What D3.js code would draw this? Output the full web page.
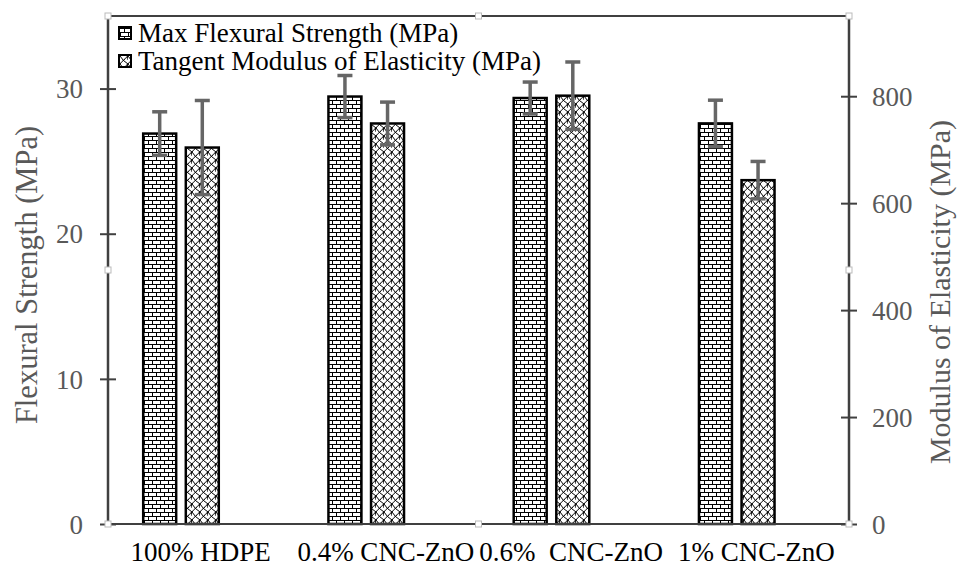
<!DOCTYPE html>
<html><head><meta charset="utf-8">
<script src="https://cdn.jsdelivr.net/npm/d3@7/dist/d3.min.js"></script>
</head>
<body style="margin:0;background:#fff"><svg id="chart" width="958" height="570"></svg>
<script>
const categories = ["100% HDPE", "0.4% CNC-ZnO", "0.6%  CNC-ZnO", "1% CNC-ZnO"];
const flexStrength = [26.9, 29.45, 29.35, 27.6];
const flexErr = [1.5, 1.45, 1.1, 1.6];
const modulus = [704, 749, 801, 643];
const modulusErr = [88, 40, 63, 35];
const leftTicks = [0, 10, 20, 30];
const rightTicks = [0, 200, 400, 600, 800];
const seriesNames = ["Max Flexural Strength (MPa)", "Tangent Modulus of Elasticity (MPa)"];

const FONT = '"Liberation Serif"';
const svg = d3.select("#chart");
const L = 108, R = 849, T = 16, B = 524;

const defs = svg.append("defs");
// brick pattern
const pb = defs.append("pattern").attr("id","brick").attr("patternUnits","userSpaceOnUse")
  .attr("width",8).attr("height",8);
pb.append("rect").attr("width",8).attr("height",8).attr("fill","#fff");
pb.append("path").attr("d","M0,0.5H8M0,4.5H8M0.5,0V4.5M4.5,4.5V8").attr("stroke","#000").attr("stroke-width",1).attr("fill","none");
// shingle-like pattern
const ps = defs.append("pattern").attr("id","shingle").attr("patternUnits","userSpaceOnUse")
  .attr("width",8).attr("height",8);
ps.append("rect").attr("width",8).attr("height",8).attr("fill","#fff");
ps.append("path").attr("d","M0,0Q3,5 8,8M-8,0Q-5,5 0,8M8,0Q5,5 16,8M8,0Q6,1 4,4M0,0Q-2,1 -4,4M4,4Q2,5 0,8M12,4Q10,5 8,8")
  .attr("stroke","#000").attr("stroke-width",1).attr("fill","none");

const x = d3.scaleBand().domain(categories).range([L, R]).padding(0);
const bw = x.bandwidth();
const yL = d3.scaleLinear().domain([0, 35]).range([B, T]);
const yR = d3.scaleLinear().domain([0, 950]).range([B, T]);

const barW = 0.178 * bw;
const off1 = 0.19 * bw, off2 = 0.42 * bw;

// bars
const g = svg.append("g");
categories.forEach((c, i) => {
  g.append("rect").attr("x", x(c) + off1).attr("y", yL(flexStrength[i]))
    .attr("width", barW).attr("height", B - yL(flexStrength[i]))
    .attr("fill", "url(#brick)").attr("stroke", "#000").attr("stroke-width", 2.5);
  g.append("rect").attr("x", x(c) + off2).attr("y", yR(modulus[i]))
    .attr("width", barW).attr("height", B - yR(modulus[i]))
    .attr("fill", "url(#shingle)").attr("stroke", "#000").attr("stroke-width", 2.5);
});
// error bars
const eg = svg.append("g").attr("stroke", "#666").attr("stroke-width", 3.5);
function errBar(cx, y0, y1) {
  eg.append("line").attr("x1", cx).attr("x2", cx).attr("y1", y0).attr("y2", y1);
  eg.append("line").attr("x1", cx - 7.5).attr("x2", cx + 7.5).attr("y1", y0).attr("y2", y0);
  eg.append("line").attr("x1", cx - 7.5).attr("x2", cx + 7.5).attr("y1", y1).attr("y2", y1);
}
categories.forEach((c, i) => {
  errBar(x(c) + off1 + barW / 2, yL(flexStrength[i] + flexErr[i]), yL(flexStrength[i] - flexErr[i]));
  errBar(x(c) + off2 + barW / 2, yR(modulus[i] + modulusErr[i]), yR(modulus[i] - modulusErr[i]));
});

// frame
svg.append("line").attr("x1", L).attr("x2", R).attr("y1", T).attr("y2", T).attr("stroke", "#404040").attr("stroke-width", 2);
svg.append("line").attr("x1", L).attr("x2", R).attr("y1", B).attr("y2", B).attr("stroke", "#404040").attr("stroke-width", 2);

// axes
const axL = svg.append("g").attr("transform", `translate(${L},0)`)
  .call(d3.axisLeft(yL).tickValues(leftTicks).tickSize(8).tickPadding(17));
axL.selectAll(".tick line").attr("x1", -8).attr("x2", 8).attr("stroke", "#404040").attr("stroke-width", 2);
axL.select(".domain").attr("stroke", "#404040").attr("stroke-width", 2.5).attr("d", `M0,${T}V${B}`);
axL.selectAll(".tick text").attr("font-size", 27).attr("fill", "#595959").attr("dy", "0.34em");

const axR = svg.append("g").attr("transform", `translate(${R},0)`)
  .call(d3.axisRight(yR).tickValues(rightTicks).tickSize(8).tickPadding(15));
axR.selectAll(".tick line").attr("x1", -8).attr("x2", 8).attr("stroke", "#404040").attr("stroke-width", 2);
axR.select(".domain").attr("stroke", "#404040").attr("stroke-width", 2.5).attr("d", `M0,${T}V${B}`);
axR.selectAll(".tick text").attr("font-size", 27).attr("fill", "#595959").attr("dy", "0.34em");

// category labels
svg.append("g").selectAll("text").data(categories).join("text")
  .attr("x", d => x(d) + bw / 2).attr("y", 561).attr("text-anchor", "middle")
  .attr("font-size", 27).attr("fill", "#000").style("white-space", "pre").text(d => d);

// axis titles
svg.append("text").attr("transform", `translate(37,275) rotate(-90)`)
  .attr("text-anchor", "middle").attr("font-size", 30.5).attr("fill", "#595959")
  .text("Flexural Strength (MPa)");
svg.append("text").attr("transform", `translate(950,292) rotate(-90)`)
  .attr("text-anchor", "middle").attr("font-size", 30).attr("fill", "#595959")
  .text("Modulus of Elasticity (MPa)");

// legend
const lg = svg.append("g");
["brick", "shingle"].forEach((p, i) => {
  const cy = 33 + i * 28;
  lg.append("rect").attr("x", 119).attr("y", cy - 6).attr("width", 12).attr("height", 12)
    .attr("fill", `url(#${p})`).attr("stroke", "#000").attr("stroke-width", 2);
  lg.append("text").attr("x", 138).attr("y", cy).attr("dy", "0.34em")
    .attr("font-size", 27).attr("fill", "#000").text(seriesNames[i]);
});

// selection handles
const hx = [L, (L + R) / 2, R], hy = [T, (T + B) / 2, B];
hx.forEach(a => hy.forEach(b => {
  if (a === (L + R) / 2 && b === (T + B) / 2) return;
  svg.append("rect").attr("x", a - 3).attr("y", b - 3).attr("width", 6).attr("height", 6)
    .attr("fill", "#fff").attr("stroke", "#bbb").attr("stroke-width", 1);
}));

svg.selectAll("text").style("font-family", FONT);
</script></body></html>
